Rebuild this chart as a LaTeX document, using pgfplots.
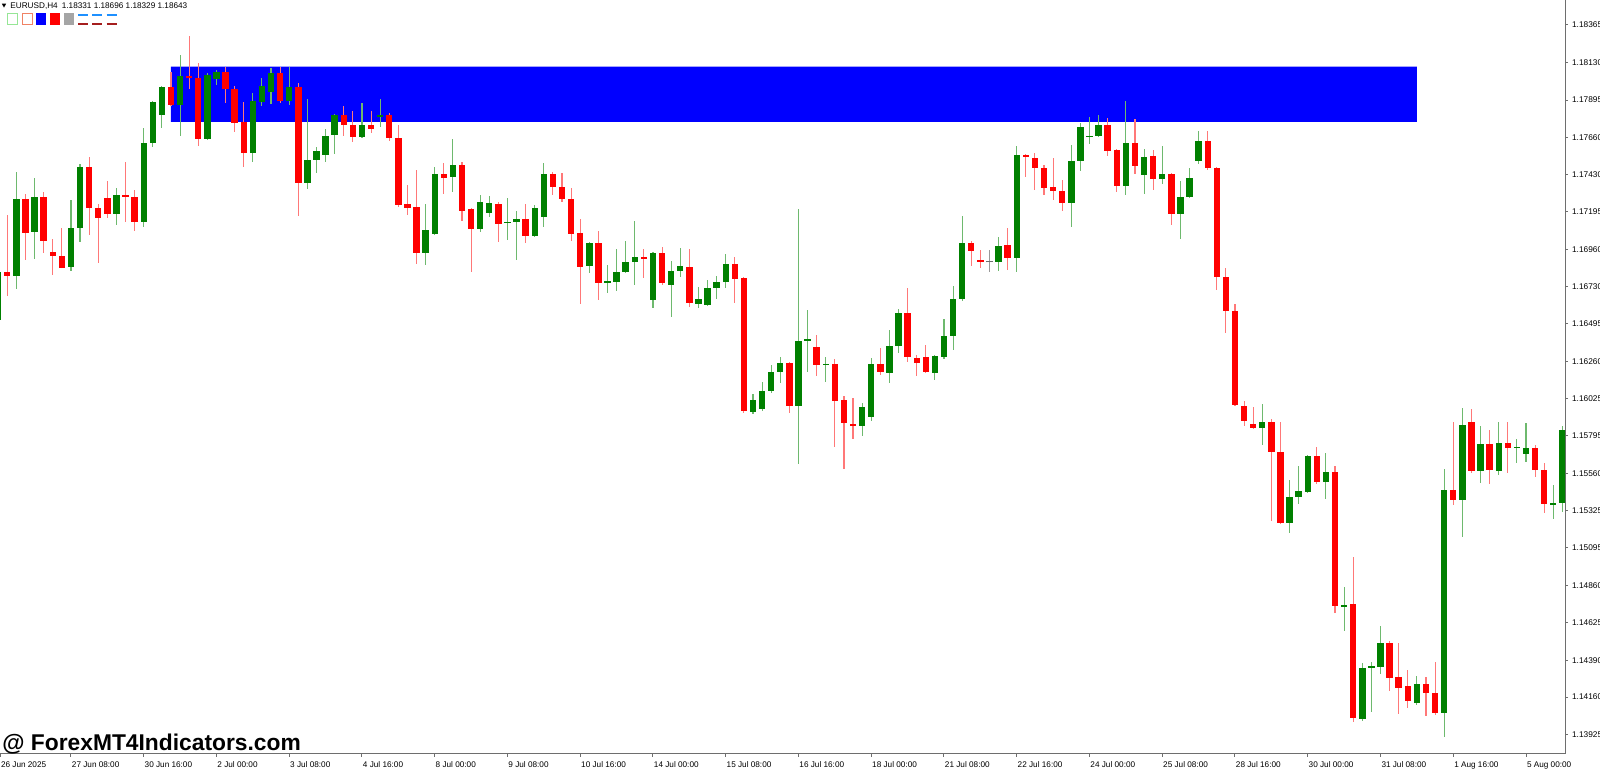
\documentclass[border=0pt]{standalone}
\usepackage{pgfplots}
\pgfplotsset{compat=1.18}
\usepackage{pgfplotstable}
\usepackage{fontspec}
\setmainfont{Liberation Sans}
\definecolor{mtgreen}{RGB}{0,128,0}
\definecolor{mtred}{RGB}{255,0,0}
\definecolor{wickg}{RGB}{110,185,110}
\definecolor{wickr}{RGB}{255,120,120}
\definecolor{axgray}{RGB}{110,110,110}
\definecolor{lgreen}{RGB}{150,230,150}
\definecolor{lsalmon}{RGB}{240,130,100}
\definecolor{dgray}{RGB}{165,165,165}
\definecolor{dblue}{RGB}{30,144,255}
\definecolor{dred}{RGB}{165,30,30}
\definecolor{dojigray}{RGB}{110,110,110}

\pgfplotstableread{
i o h l c
0 1.16520 1.16845 1.16507 1.16820
2 1.16795 1.17445 1.16713 1.17276
4 1.17070 1.17408 1.16901 1.17289
8 1.16851 1.17270 1.16826 1.17095
9 1.17095 1.17495 1.17007 1.17477
13 1.17183 1.17345 1.17114 1.17301
16 1.17133 1.17721 1.17101 1.17627
17 1.17627 1.17890 1.17602 1.17883
18 1.17802 1.17983 1.17721 1.17977
20 1.17865 1.18177 1.17671 1.18046
23 1.17652 1.18065 1.17646 1.18052
24 1.18027 1.18083 1.17990 1.18071
28 1.17564 1.17940 1.17508 1.17890
29 1.17883 1.18033 1.17858 1.17983
30 1.17946 1.18096 1.17871 1.18065
32 1.17890 1.18102 1.17865 1.17977
34 1.17377 1.17902 1.17339 1.17520
35 1.17520 1.17602 1.17439 1.17577
36 1.17552 1.17714 1.17508 1.17671
37 1.17677 1.17808 1.17558 1.17802
40 1.17664 1.17877 1.17658 1.17739
42 1.17789 1.17902 1.17727 1.17802
47 1.16939 1.17245 1.16864 1.17083
48 1.17058 1.17477 1.17051 1.17433
50 1.17414 1.17652 1.17320 1.17489
53 1.17089 1.17301 1.17070 1.17258
54 1.17189 1.17295 1.17164 1.17251
56 1.17126 1.17283 1.17020 1.17133
57 1.17133 1.17201 1.16895 1.17151
59 1.17045 1.17239 1.17039 1.17220
60 1.17164 1.17502 1.17101 1.17433
65 1.16857 1.17007 1.16814 1.17001
67 1.16751 1.16864 1.16688 1.16763
68 1.16757 1.16964 1.16701 1.16820
69 1.16820 1.17014 1.16814 1.16882
70 1.16882 1.17139 1.16738 1.16914
72 1.16645 1.16945 1.16595 1.16939
74 1.16738 1.16889 1.16538 1.16826
75 1.16826 1.16970 1.16789 1.16857
77 1.16620 1.16726 1.16595 1.16651
78 1.16613 1.16770 1.16607 1.16720
79 1.16720 1.16795 1.16651 1.16757
80 1.16757 1.16932 1.16720 1.16870
83 1.15944 1.16057 1.15931 1.16019
84 1.15963 1.16132 1.15950 1.16075
85 1.16075 1.16238 1.16063 1.16194
86 1.16194 1.16288 1.16125 1.16250
88 1.15981 1.17214 1.15619 1.16388
89 1.16388 1.16582 1.16194 1.16401
91 1.16238 1.16288 1.16132 1.16244
95 1.15856 1.16000 1.15794 1.15975
96 1.15913 1.16282 1.15888 1.16244
98 1.16188 1.16457 1.16125 1.16357
99 1.16357 1.16588 1.16313 1.16563
103 1.16188 1.16301 1.16144 1.16294
104 1.16288 1.16526 1.16276 1.16419
105 1.16419 1.16732 1.16332 1.16651
106 1.16651 1.17170 1.16638 1.17001
110 1.16882 1.17039 1.16826 1.16982
112 1.16907 1.17608 1.16820 1.17552
118 1.17251 1.17614 1.17101 1.17514
119 1.17514 1.17752 1.17452 1.17727
120 1.17664 1.17789 1.17621 1.17671
121 1.17671 1.17802 1.17664 1.17739
124 1.17358 1.17890 1.17301 1.17627
126 1.17427 1.17589 1.17308 1.17539
128 1.17402 1.17608 1.17370 1.17433
130 1.17183 1.17389 1.17026 1.17289
131 1.17289 1.17470 1.17283 1.17408
132 1.17514 1.17702 1.17495 1.17639
139 1.15844 1.15994 1.15738 1.15881
142 1.15250 1.15519 1.15187 1.15412
143 1.15412 1.15606 1.15368 1.15450
144 1.15443 1.15675 1.15437 1.15669
146 1.15506 1.15687 1.15400 1.15569
148 1.14724 1.14849 1.14574 1.14737
150 1.14023 1.14374 1.14011 1.14342
151 1.14342 1.14380 1.14067 1.14355
152 1.14349 1.14605 1.14305 1.14499
156 1.14123 1.14292 1.14111 1.14242
159 1.14061 1.15587 1.13911 1.15456
161 1.15393 1.15969 1.15162 1.15863
163 1.15575 1.15856 1.15500 1.15744
165 1.15575 1.15881 1.15550 1.15750
167 1.15719 1.15775 1.15625 1.15725
168 1.15681 1.15875 1.15631 1.15719
171 1.15362 1.15487 1.15275 1.15375
172 1.15375 1.15856 1.15318 1.15831
}\tabG

\pgfplotstableread{
i o h l c
1 1.16820 1.17176 1.16670 1.16795
3 1.17276 1.17308 1.16895 1.17064
5 1.17289 1.17320 1.16939 1.17014
6 1.16945 1.17026 1.16801 1.16920
7 1.16920 1.17095 1.16842 1.16845
10 1.17477 1.17539 1.17051 1.17220
11 1.17220 1.17245 1.16876 1.17158
12 1.17283 1.17389 1.17158 1.17183
14 1.17301 1.17508 1.17133 1.17289
15 1.17289 1.17333 1.17076 1.17133
19 1.17977 1.18071 1.17858 1.17865
21 1.18046 1.18296 1.17965 1.18033
22 1.18033 1.18127 1.17608 1.17652
25 1.18071 1.18102 1.17877 1.17965
26 1.17965 1.17983 1.17696 1.17752
27 1.17758 1.17883 1.17477 1.17564
31 1.18065 1.18102 1.17877 1.17890
33 1.17977 1.18002 1.17170 1.17377
38 1.17802 1.17858 1.17671 1.17739
39 1.17739 1.17827 1.17633 1.17664
41 1.17739 1.17827 1.17689 1.17714
43 1.17802 1.17814 1.17639 1.17658
44 1.17658 1.17739 1.17226 1.17239
45 1.17245 1.17364 1.17176 1.17220
46 1.17226 1.17458 1.16870 1.16939
49 1.17433 1.17502 1.17308 1.17408
51 1.17489 1.17508 1.17139 1.17201
52 1.17214 1.17220 1.16820 1.17089
55 1.17245 1.17258 1.17007 1.17120
58 1.17151 1.17245 1.17001 1.17045
61 1.17433 1.17445 1.17301 1.17352
62 1.17352 1.17439 1.17258 1.17276
63 1.17276 1.17345 1.17014 1.17058
64 1.17064 1.17151 1.16620 1.16851
66 1.17001 1.17076 1.16645 1.16751
71 1.16914 1.16964 1.16782 1.16901
73 1.16939 1.16976 1.16738 1.16751
76 1.16851 1.16964 1.16601 1.16626
81 1.16870 1.16914 1.16626 1.16776
82 1.16782 1.16789 1.15938 1.15950
87 1.16250 1.16257 1.15938 1.15981
90 1.16351 1.16426 1.16169 1.16238
92 1.16244 1.16276 1.15725 1.16013
93 1.16019 1.16044 1.15587 1.15875
94 1.15869 1.16032 1.15775 1.15856
97 1.16244 1.16344 1.16175 1.16194
100 1.16563 1.16720 1.16257 1.16288
101 1.16282 1.16301 1.16169 1.16250
102 1.16288 1.16363 1.16188 1.16194
107 1.17001 1.17014 1.16857 1.16951
108 1.16895 1.16957 1.16845 1.16882
111 1.16989 1.17095 1.16832 1.16907
113 1.17552 1.17558 1.17414 1.17539
114 1.17533 1.17564 1.17333 1.17470
115 1.17470 1.17489 1.17301 1.17345
116 1.17352 1.17533 1.17270 1.17327
117 1.17327 1.17395 1.17201 1.17251
122 1.17739 1.17783 1.17545 1.17577
123 1.17583 1.17589 1.17320 1.17358
125 1.17627 1.17777 1.17433 1.17483
127 1.17545 1.17583 1.17333 1.17402
129 1.17433 1.17439 1.17114 1.17183
133 1.17639 1.17702 1.17458 1.17470
134 1.17470 1.17477 1.16707 1.16789
135 1.16789 1.16845 1.16438 1.16576
136 1.16576 1.16620 1.15981 1.15988
137 1.15981 1.16013 1.15856 1.15888
138 1.15869 1.15975 1.15838 1.15844
140 1.15881 1.15900 1.15262 1.15694
141 1.15694 1.15881 1.15243 1.15250
145 1.15669 1.15725 1.15494 1.15506
147 1.15569 1.15606 1.14686 1.14730
149 1.14743 1.15037 1.14005 1.14030
153 1.14499 1.14511 1.14199 1.14280
154 1.14286 1.14499 1.14055 1.14217
155 1.14230 1.14330 1.14092 1.14136
157 1.14242 1.14286 1.14042 1.14186
158 1.14186 1.14380 1.14048 1.14061
160 1.15456 1.15881 1.15362 1.15393
162 1.15881 1.15963 1.15562 1.15575
164 1.15744 1.15831 1.15494 1.15581
166 1.15750 1.15881 1.15562 1.15719
169 1.15719 1.15738 1.15537 1.15581
170 1.15581 1.15625 1.15312 1.15368
}\tabR

\pgfplotstableread{
i o h l c
109 1.16879 1.16957 1.16820 1.16885
}\tabD

\begin{document}
\begin{tikzpicture}
\useasboundingbox (0,-7.5pt) rectangle (800pt,377pt);
\begin{axis}[
  scale only axis, width=782.5pt, height=377pt,
  at={(0,0)}, anchor=south west,
  xmin=0.198, xmax=172.29, ymin=1.13804, ymax=1.18521,
  axis x line*=bottom, axis y line*=right,
  x axis line style={-, draw=axgray, line width=0.5pt},
  y axis line style={-, draw=axgray, line width=0.5pt},
  tick align=outside, major tick length=1.5pt,
  tick style={draw=axgray, line width=0.5pt},
  minor tick num=0, scaled y ticks=false,
  xtick={0.2,8,16,24,32,40,48,56,64,72,80,88,96,104,112,120,128,136,144,152,160,168},
  xticklabels={26 Jun 2025,27 Jun 08:00,30 Jun 16:00,2 Jul 00:00,3 Jul 08:00,4 Jul 16:00,8 Jul 00:00,9 Jul 08:00,10 Jul 16:00,14 Jul 00:00,15 Jul 08:00,16 Jul 16:00,18 Jul 00:00,21 Jul 08:00,22 Jul 16:00,24 Jul 00:00,25 Jul 08:00,28 Jul 16:00,30 Jul 00:00,31 Jul 08:00,1 Aug 16:00,5 Aug 00:00},
  ytick={1.13925,1.14160,1.14390,1.14625,1.14860,1.15095,1.15325,1.15560,1.15795,1.16025,1.16260,1.16495,1.16730,1.16960,1.17195,1.17430,1.17660,1.17895,1.18130,1.18365},
  yticklabels={1.13925,1.14160,1.14390,1.14625,1.14860,1.15095,1.15325,1.15560,1.15795,1.16025,1.16260,1.16495,1.16730,1.16960,1.17195,1.17430,1.17660,1.17895,1.18130,1.18365},
  xticklabel style={font=\fontsize{4.1}{5}\selectfont, anchor=north west, inner sep=0pt, yshift=-2.3pt, xshift=0.3pt, text=black},
  yticklabel style={font=\fontsize{4.15}{5}\selectfont, anchor=west, inner sep=0pt, xshift=1.85pt, text=black},
  clip=true,
]
% zone rectangle
\addplot[fill=blue, draw=none, forget plot] coordinates {(19,1.17758) (156,1.17758) (156,1.18104) (19,1.18104) (19,1.17758)};
% wicks
\addplot[draw=none, mark=none, forget plot, error bars/.cd, y dir=plus, y explicit, error mark=none,
  error bar style={draw=wickg, line width=0.55pt}]
  table[x=i, y=l, y error expr=\thisrow{h}-\thisrow{l}] {\tabG};
\addplot[draw=none, mark=none, forget plot, error bars/.cd, y dir=plus, y explicit, error mark=none,
  error bar style={draw=wickr, line width=0.55pt}]
  table[x=i, y=l, y error expr=\thisrow{h}-\thisrow{l}] {\tabR};
\addplot[draw=none, mark=none, forget plot, error bars/.cd, y dir=plus, y explicit, error mark=none,
  error bar style={draw=dojigray!70, line width=0.55pt}]
  table[x=i, y=l, y error expr=\thisrow{h}-\thisrow{l}] {\tabD};
% bodies
\addplot[draw=none, mark=none, forget plot, error bars/.cd, y dir=plus, y explicit, error mark=none,
  error bar style={draw=mtgreen, line width=3.2pt}]
  table[x=i, y=o, y error expr=\thisrow{c}-\thisrow{o}] {\tabG};
\addplot[draw=none, mark=none, forget plot, error bars/.cd, y dir=plus, y explicit, error mark=none,
  error bar style={draw=mtred, line width=3.2pt}]
  table[x=i, y=c, y error expr=\thisrow{o}-\thisrow{c}] {\tabR};
\addplot[draw=none, mark=none, forget plot, error bars/.cd, y dir=plus, y explicit, error mark=none,
  error bar style={draw=dojigray, line width=3.2pt}]
  table[x=i, y=o, y error expr=\thisrow{c}-\thisrow{o}] {\tabD};
\end{axis}
% chart window overlays (pixel coordinates)
\begin{scope}[x=0.5pt, y=-0.5pt, shift={(0,377pt)}]
  \fill[black] (1.8,3.6) -- (6.2,3.6) -- (4.0,7.6) -- cycle;
  \node[anchor=west, inner sep=0pt, font=\fontsize{4.1}{5}\selectfont] at (10,5.8) {EURUSD,H4\enspace 1.18331 1.18696 1.18329 1.18643};
  \draw[lgreen, line width=0.55pt] (7.2,13.8) rectangle (17.2,24.6);
  \draw[lsalmon, line width=0.55pt] (22.2,13.8) rectangle (32.2,24.6);
  \fill[blue] (35.7,13.5) rectangle (45.7,24.8);
  \fill[red] (50,13.5) rectangle (60,24.8);
  \fill[dgray] (64.3,13.5) rectangle (74,24.8);
  \foreach \a in {78.3,92.3,106.7}{
    \draw[dblue, line width=1pt] (\a,14.8) -- ++(10,0);
    \draw[dred, line width=1pt] (\a,24) -- ++(10,0);
  }
  \node[anchor=base west, inner sep=0pt, font=\bfseries\fontsize{11.4}{13}\selectfont] at (2,751) {@ ForexMT4Indicators.com};
\end{scope}
\end{tikzpicture}
\end{document}
